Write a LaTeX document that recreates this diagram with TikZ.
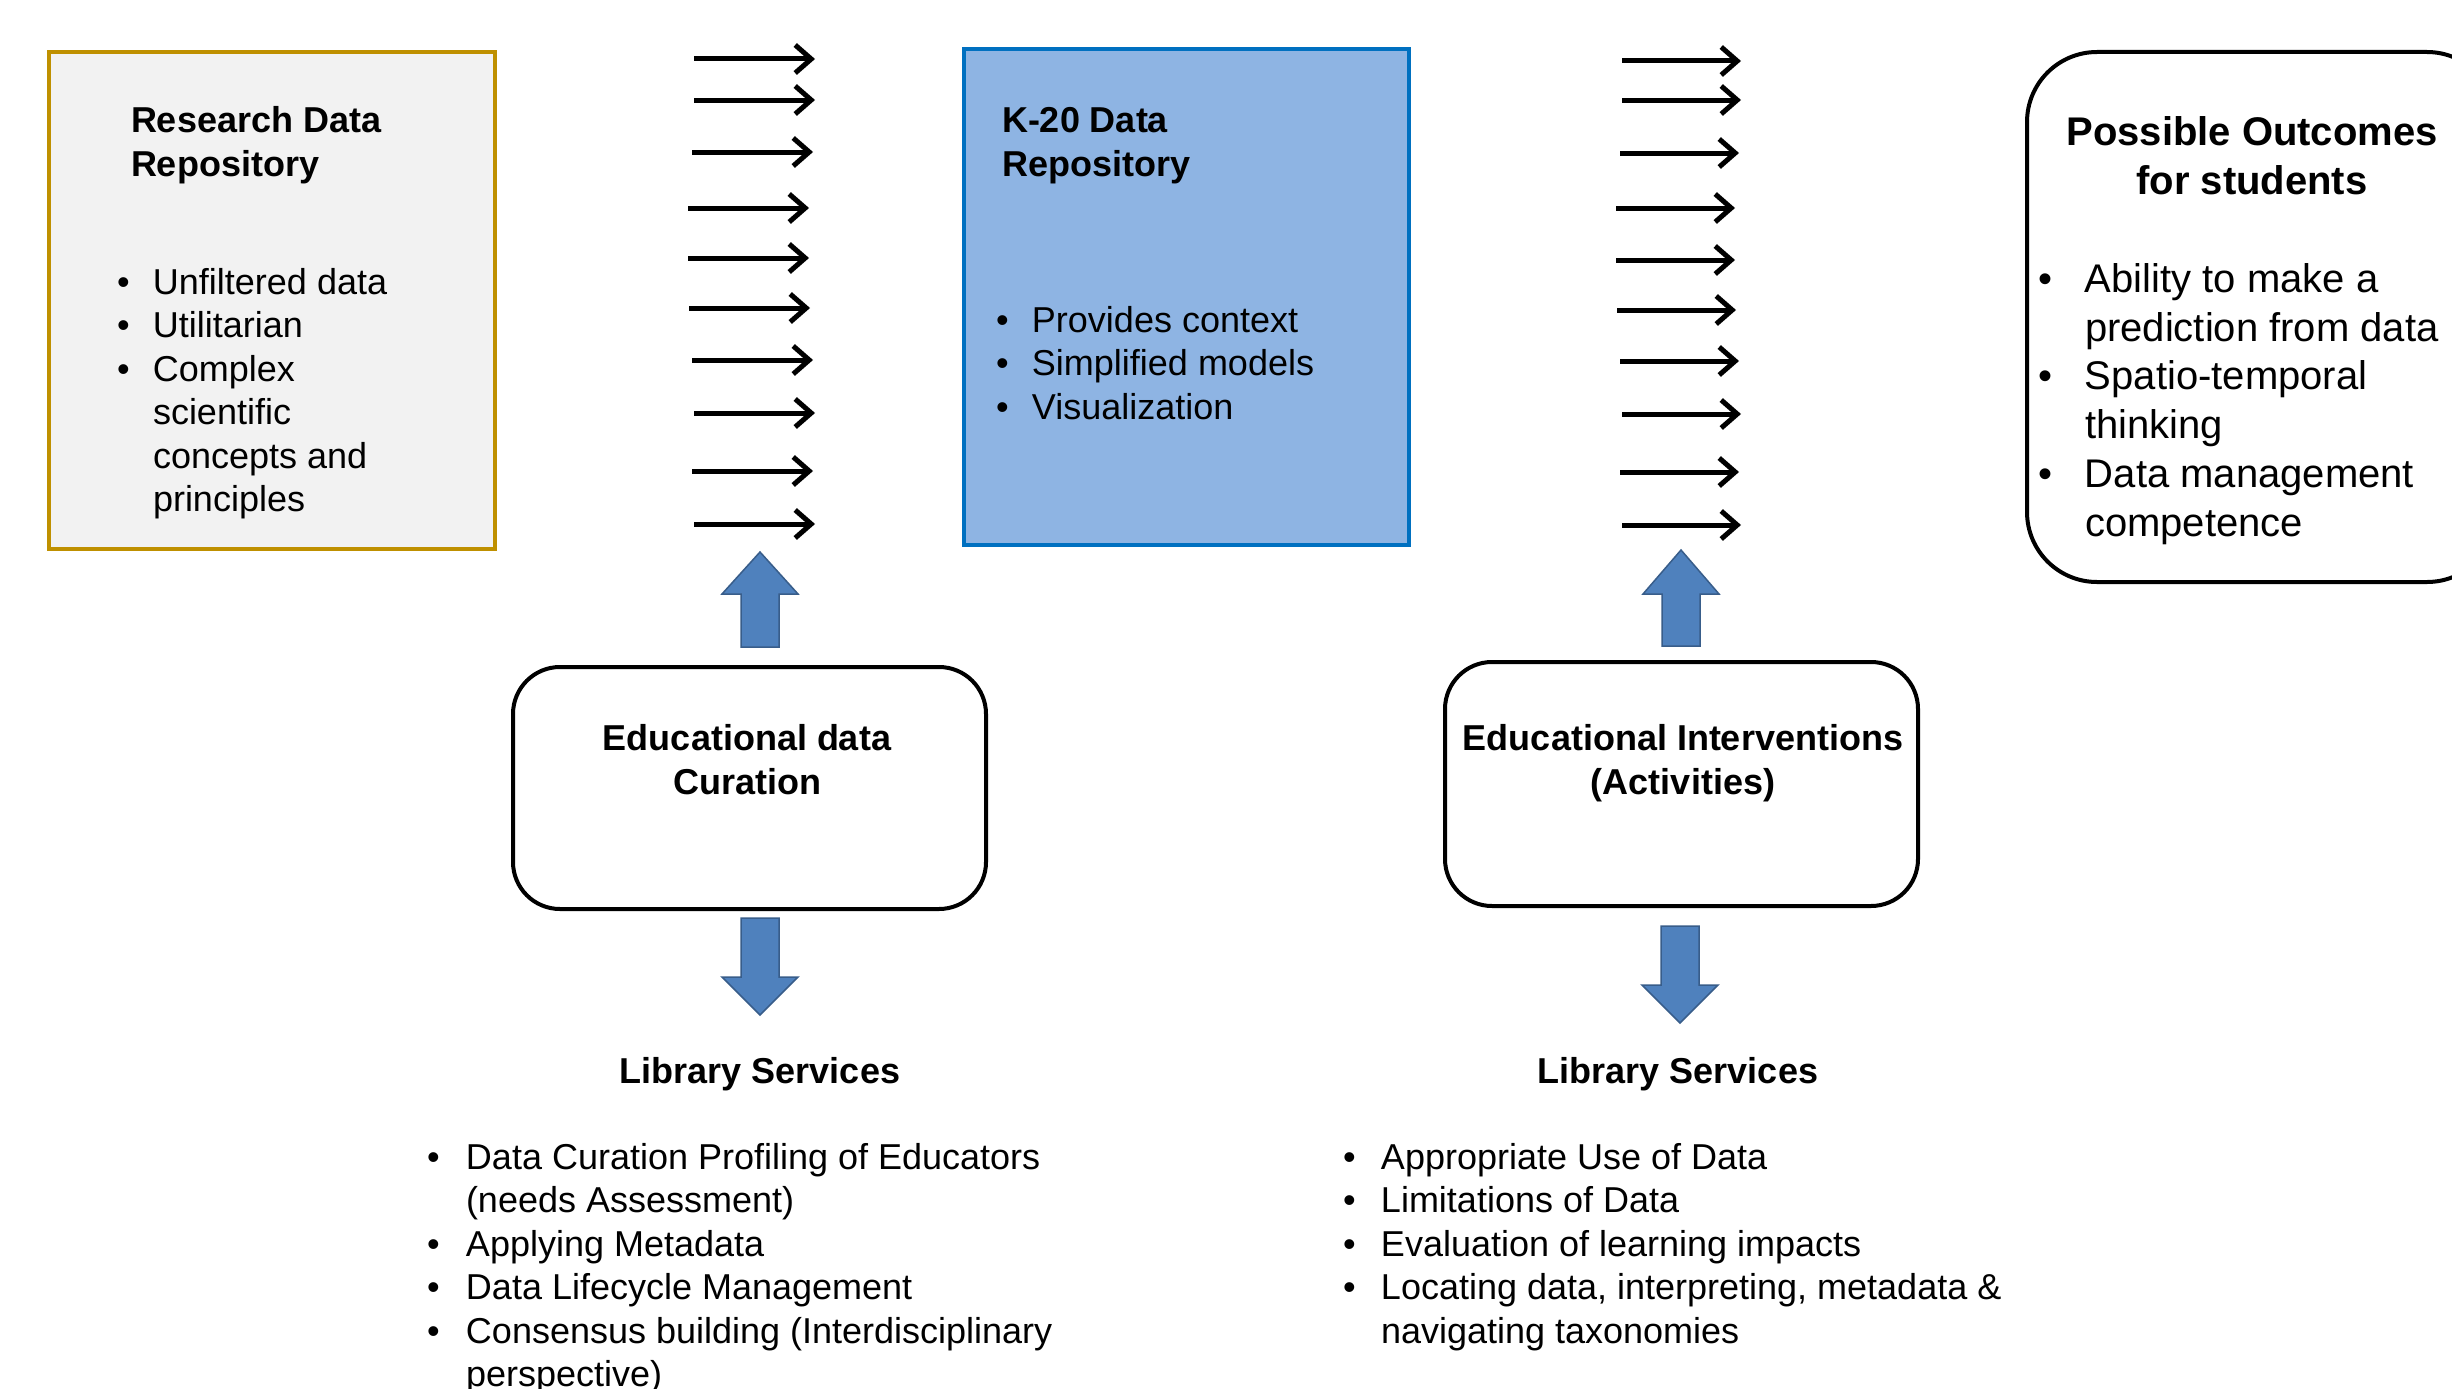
\documentclass[tikz,border=0pt]{standalone}
\usepackage{fontspec}
\setmainfont{Liberation Sans}
\usetikzlibrary{arrows.meta}

\definecolor{goldline}{HTML}{BF9000}
\definecolor{palegray}{HTML}{F2F2F2}
\definecolor{skyfill}{HTML}{8EB4E3}
\definecolor{skyline}{HTML}{0070C0}
\definecolor{blockfill}{HTML}{4F81BD}
\definecolor{blockline}{HTML}{385D8A}

% type sizes (1 unit = 1pt)
\newcommand\bodysize{\fontsize{36}{43.5}\selectfont}
\newcommand\headsize{\fontsize{36}{44}\selectfont\bfseries}
\newcommand\outsize{\fontsize{40}{48.7}\selectfont}
\newcommand\outhead{\fontsize{40}{48.5}\selectfont\bfseries}
% bullet with a fixed indent before the item text
\newcommand\itm[1]{\makebox[#1][l]{\hspace*{-3pt}\textbullet}}

% thick blue block arrow: centre x, foot y, head-base y, tip y
\newcommand\blockarrowpath[4]{%
  \draw[blockarrow] (#1-19,#2) -- (#1-19,#3) -- (#1-38,#3) -- (#1,#4)
    -- (#1+38,#3) -- (#1+19,#3) -- (#1+19,#2) -- cycle;}

\tikzset{
  flow/.style={line width=5pt, -{Straight Barb[length=16pt,width=28pt]}},
  blockarrow/.style={fill=blockfill, draw=blockline, line width=1.5pt, line join=miter},
  textnode/.style={inner sep=0pt, outer sep=0pt},
  roundbox/.style={draw=black, line width=4pt, fill=white, inner sep=0pt, anchor=north west},
}

\begin{document}
\begin{tikzpicture}[x=1pt, y=-1pt]
\useasboundingbox (0,0) rectangle (2452,1389);
\clip (0,0) rectangle (2452,1389);
\fill[white] (0,0) rectangle (2452,1389);

% ---- research data repository ----
\node[draw=goldline, fill=palegray, line width=4pt, inner sep=0pt, anchor=north west,
      minimum width=446pt, minimum height=497pt] (rdr) at (47,50) {};
\node[textnode, anchor=base west] (rdrtitle) at (131,132)
  {\headsize\begin{tabular}[t]{@{}l@{}}Research Data\\Repository\end{tabular}};
\node[textnode, anchor=base west] (rdrlist) at (120,294)
  {\bodysize\begin{tabular}[t]{@{}l@{}}
    \itm{33pt}Unfiltered data\\
    \itm{33pt}Utilitarian\\
    \itm{33pt}Complex\\
    \hspace*{33pt}scientific\\
    \hspace*{33pt}concepts and\\
    \hspace*{33pt}principles
  \end{tabular}};

% ---- K-20 data repository ----
\node[draw=skyline, fill=skyfill, line width=4pt, inner sep=0pt, anchor=north west,
      minimum width=445pt, minimum height=496pt] (k20) at (962,47) {};
\node[textnode, anchor=base west] (k20title) at (1002,132)
  {\headsize\begin{tabular}[t]{@{}l@{}}K-20 Data\\Repository\end{tabular}};
\node[textnode, anchor=base west] (k20list) at (999,332)
  {\bodysize\begin{tabular}[t]{@{}l@{}}
    \itm{33pt}Provides context\\
    \itm{33pt}Simplified models\\
    \itm{33pt}Visualization
  \end{tabular}};

% ---- possible outcomes ----
\node[roundbox, rounded corners=70pt, minimum width=470pt, minimum height=530pt] (outc) at (2025,50) {};
\node[textnode, anchor=base] (outtitle) at (2252,145.5)
  {\outhead\begin{tabular}[t]{@{}c@{}}Possible Outcomes\\for students\end{tabular}};
\node[textnode, anchor=base west] (outlist) at (2041,292.5)
  {\outsize\begin{tabular}[t]{@{}l@{}}
    \itm{44pt}Ability to make a\\
    \hspace*{44pt}prediction from data\\
    \itm{44pt}Spatio-temporal\\
    \hspace*{44pt}thinking\\
    \itm{44pt}Data management\\
    \hspace*{44pt}competence
  \end{tabular}};

% ---- flow arrows between the columns ----
\foreach \yy/\dx [count=\i] in {59/0,100/0,152/-2,208/-6,258/-6,308/-5,360/-2,413/0,471/-2,524/0}{
  \coordinate (fa\i) at (694+\dx,\yy);
  \coordinate (fb\i) at (815+\dx,\yy);
  \draw[flow] (fa\i) -- (fb\i);
}
\foreach \yy/\dx [count=\i] in {61/0,100/0,153/-2,208/-6,260/-6,310/-5,361/-2,414/0,472/-2,525/0}{
  \coordinate (ga\i) at (1622+\dx,\yy);
  \coordinate (gb\i) at (1741+\dx,\yy);
  \draw[flow] (ga\i) -- (gb\i);
}

% ---- educational data curation ----
\node[roundbox, rounded corners=47pt, minimum width=473pt, minimum height=242pt] (cur) at (511,665) {};
\node[textnode, anchor=base] (curtext) at (747,750)
  {\headsize\begin{tabular}[t]{@{}c@{}}Educational data\\Curation\end{tabular}};
\blockarrowpath{760}{647}{594}{552}
\blockarrowpath{760}{918}{977}{1015}

\node[textnode, anchor=base] (libA) at (760,1083) {\headsize Library Services};
\node[textnode, anchor=base west] (libAlist) at (430,1169)
  {\bodysize\begin{tabular}[t]{@{}l@{}}
    \itm{36pt}Data Curation Profiling of Educators\\
    \hspace*{36pt}(needs Assessment)\\
    \itm{36pt}Applying Metadata\\
    \itm{36pt}Data Lifecycle Management\\
    \itm{36pt}Consensus building (Interdisciplinary\\
    \hspace*{36pt}perspective)
  \end{tabular}};

% ---- educational interventions ----
\node[roundbox, rounded corners=47pt, minimum width=473pt, minimum height=244pt] (intv) at (1443,660) {};
\node[textnode, anchor=base] (intvtext) at (1683,750)
  {\headsize\begin{tabular}[t]{@{}c@{}}Educational Interventions\\(Activities)\end{tabular}};
\blockarrowpath{1681}{646}{594}{550}
\blockarrowpath{1680}{926}{985}{1023}

\node[textnode, anchor=base] (libB) at (1678,1083) {\headsize Library Services};
\node[textnode, anchor=base west] (libBlist) at (1346,1169)
  {\bodysize\begin{tabular}[t]{@{}l@{}}
    \itm{35pt}Appropriate Use of Data\\
    \itm{35pt}Limitations of Data\\
    \itm{35pt}Evaluation of learning impacts\\
    \itm{35pt}Locating data, interpreting, metadata \&\\
    \hspace*{35pt}navigating taxonomies
  \end{tabular}};
\end{tikzpicture}
\end{document}
